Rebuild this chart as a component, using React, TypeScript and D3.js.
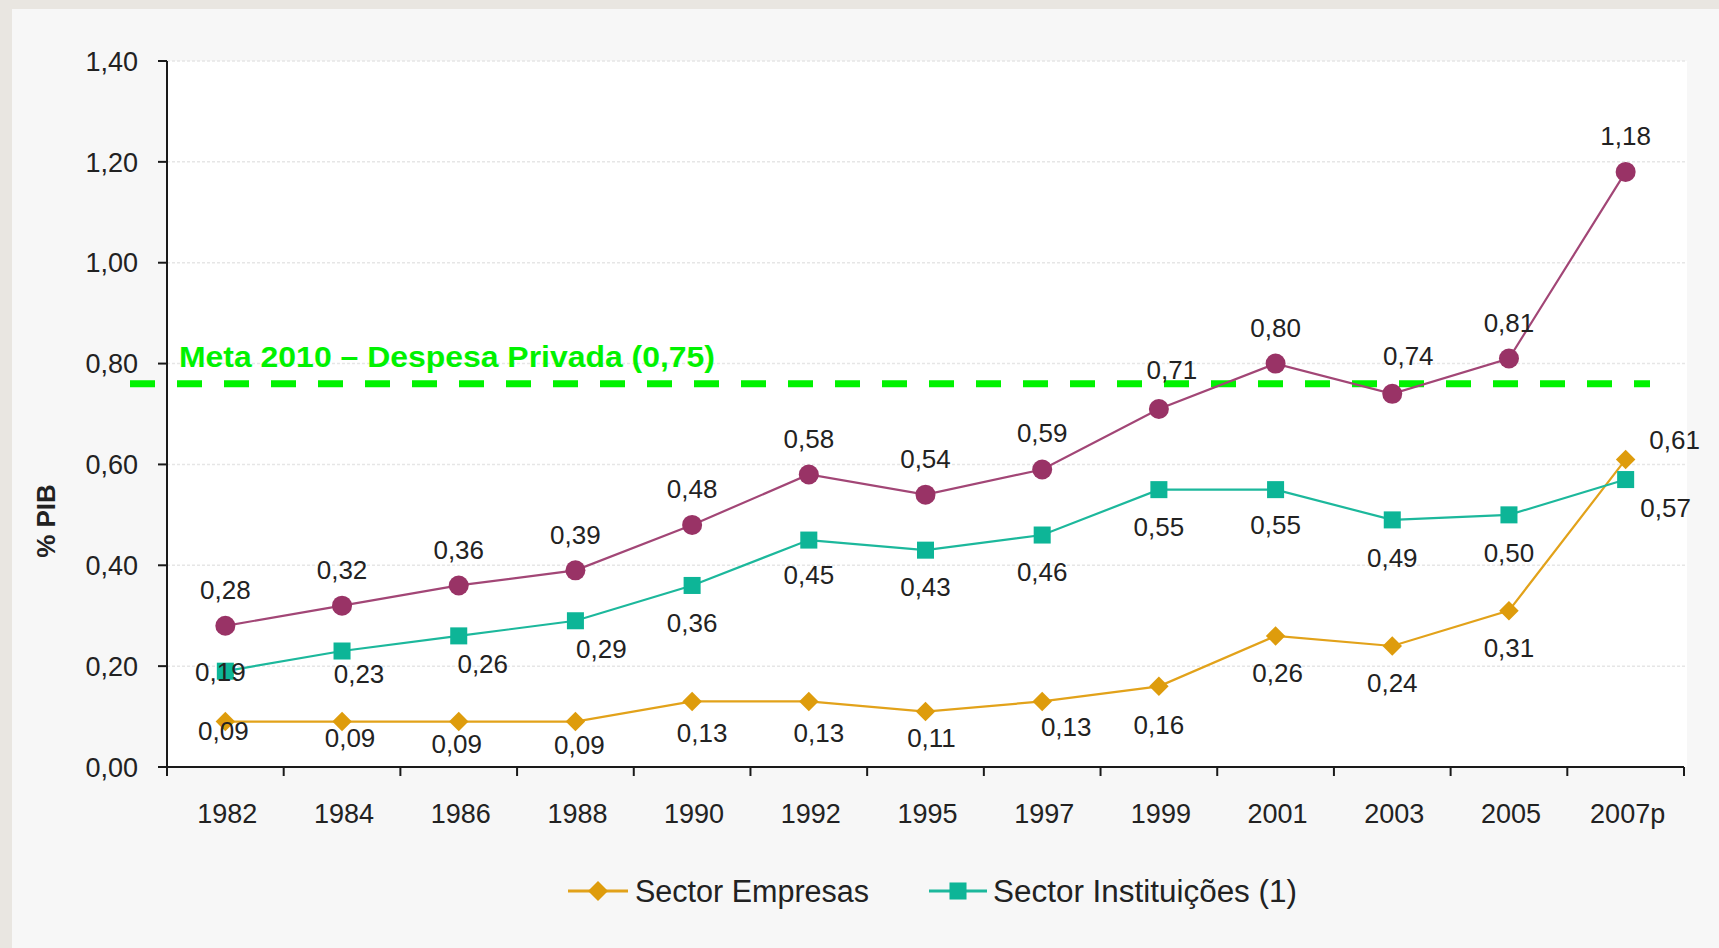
import React, { useEffect, useRef } from 'react'
import * as d3 from 'd3'

// anos (eixo x)
const years = ['1982', '1984', '1986', '1988', '1990', '1992', '1995', '1997', '1999', '2001', '2003', '2005', '2007p']

// despesa privada total (% PIB)
const totalValues = [0.28, 0.32, 0.36, 0.39, 0.48, 0.58, 0.54, 0.59, 0.71, 0.80, 0.74, 0.81, 1.18]
const empresasValues = [0.09, 0.09, 0.09, 0.09, 0.13, 0.13, 0.11, 0.13, 0.16, 0.26, 0.24, 0.31, 0.61]
const instituicoesValues = [0.19, 0.23, 0.26, 0.29, 0.36, 0.45, 0.43, 0.46, 0.55, 0.55, 0.49, 0.50, 0.57]

const yTicks = [0, 0.2, 0.4, 0.6, 0.8, 1.0, 1.2, 1.4]
const metaValue = 0.75
const metaLabel = 'Meta 2010 – Despesa Privada (0,75)'
const yAxisTitle = '% PIB'
const legendLabels = ['Sector Empresas', 'Sector Instituições (1)']

// where each value label sits relative to its point (dx, dy of the label centre)
const totalLabelOffsets = [[0, -36], [0, -36], [0, -36], [0, -36], [0, -36], [0, -36], [0, -36], [0, -37], [13, -39], [0, -36], [16, -38], [0, -36], [0, -36]]
const empresasLabelOffsets = [[-2, 9], [8, 16], [-2, 22], [4, 23], [10, 31], [10, 31], [6, 26], [24, 25], [0, 38], [2, 37], [0, 37], [0, 37], [49, -20]]
const instituicoesLabelOffsets = [[-5, 0], [17, 23], [24, 28], [26, 28], [0, 37], [0, 35], [0, 36], [0, 37], [0, 37], [0, 35], [0, 38], [0, 38], [40, 28]]

const W = 1719
const H = 948
const FONT = '"Liberation Sans", Arial, sans-serif'
const GREEN = '#00f200'

const fmt = (v: number) => d3.format('.2f')(v).replace('.', ',')

function App () {
  const ref = useRef<SVGSVGElement>(null)

  useEffect(() => {
    document.body.style.margin = '0'
    const svg = d3.select(ref.current)
    svg.selectAll('*').remove()

    // background / panel
    svg.append('rect').attr('width', W).attr('height', H).attr('fill', '#e9e6e1')
    svg.append('rect').attr('x', 12).attr('y', 9).attr('width', W - 12).attr('height', H - 9).attr('fill', '#f7f7f7')

    const left = 167
    const right = 1684
    const top = 61
    const bottom = 767

    svg.append('rect')
      .attr('x', left).attr('y', top)
      .attr('width', 1687 - left).attr('height', bottom - top)
      .attr('fill', '#ffffff')

    const x = d3.scaleBand<string>().domain(years).range([left, right])
    const y = d3.scaleLinear().domain([0, 1.4]).range([bottom, top])
    const cx = (yr: string) => (x(yr) as number) + x.bandwidth() / 2

    // gridlines
    svg.append('g')
      .selectAll('line')
      .data(yTicks.filter(t => t > 0))
      .enter()
      .append('line')
      .attr('x1', left).attr('x2', 1687)
      .attr('y1', d => y(d)).attr('y2', d => y(d))
      .attr('stroke', '#e6e6e6')
      .attr('stroke-width', 1.5)
      .attr('stroke-dasharray', '3,2')

    // y axis
    const yAxis = svg.append('g')
    yAxis.append('line')
      .attr('x1', left).attr('x2', left)
      .attr('y1', y(1.4)).attr('y2', bottom + 8)
      .attr('stroke', '#1a1a1a').attr('stroke-width', 2)
    yAxis.selectAll('.tick')
      .data(yTicks)
      .enter()
      .append('line')
      .attr('x1', left - 9).attr('x2', left)
      .attr('y1', d => y(d)).attr('y2', d => y(d))
      .attr('stroke', '#1a1a1a').attr('stroke-width', 2)
    yAxis.selectAll('text')
      .data(yTicks)
      .enter()
      .append('text')
      .attr('x', 138)
      .attr('y', d => y(d))
      .attr('dy', '0.36em')
      .attr('text-anchor', 'end')
      .attr('font-family', FONT)
      .attr('font-size', 27)
      .attr('fill', '#222')
      .text(d => fmt(d))

    // x axis
    const xAxis = svg.append('g')
    xAxis.append('line')
      .attr('x1', left - 9).attr('x2', right)
      .attr('y1', bottom).attr('y2', bottom)
      .attr('stroke', '#1a1a1a').attr('stroke-width', 2)
    const bounds = years.map(yr => x(yr) as number).concat([right])
    xAxis.selectAll('.tick')
      .data(bounds)
      .enter()
      .append('line')
      .attr('x1', d => d).attr('x2', d => d)
      .attr('y1', bottom).attr('y2', bottom + 9)
      .attr('stroke', '#1a1a1a').attr('stroke-width', 2)
    xAxis.selectAll('text')
      .data(years)
      .enter()
      .append('text')
      .attr('x', d => cx(d) + 2)
      .attr('y', 813)
      .attr('dy', '0.36em')
      .attr('text-anchor', 'middle')
      .attr('font-family', FONT)
      .attr('font-size', 27)
      .attr('fill', '#222')
      .text(d => d)

    // y axis title
    svg.append('text')
      .attr('transform', 'translate(46,521) rotate(-90)')
      .attr('dy', '0.36em')
      .attr('text-anchor', 'middle')
      .attr('font-family', FONT)
      .attr('font-size', 26)
      .attr('font-weight', 'bold')
      .attr('fill', '#222')
      .text(yAxisTitle)

    // meta line
    svg.append('line')
      .attr('x1', 130).attr('x2', 1650)
      .attr('y1', y(metaValue) - 5).attr('y2', y(metaValue) - 5)
      .attr('stroke', GREEN)
      .attr('stroke-width', 7)
      .attr('stroke-dasharray', '25,22')
    svg.append('text')
      .attr('x', 179)
      .attr('y', 367)
      .attr('font-family', FONT)
      .attr('font-size', 30)
      .attr('font-weight', 'bold')
      .attr('fill', GREEN)
      .attr('textLength', 536)
      .attr('lengthAdjust', 'spacingAndGlyphs')
      .text(metaLabel)

    const series = [
      { values: empresasValues, line: '#e2a21a', fill: '#de9c0c', marker: 'diamond', offsets: empresasLabelOffsets },
      { values: instituicoesValues, line: '#1cb89c', fill: '#0db597', marker: 'square', offsets: instituicoesLabelOffsets },
      { values: totalValues, line: '#a24676', fill: '#993366', marker: 'circle', offsets: totalLabelOffsets }
    ]

    const diamond = d3.symbol().type(d3.symbolSquare).size(190)
    const square = d3.symbol().type(d3.symbolSquare).size(290)

    series.forEach(s => {
      const pts = years.map((yr, i) => ({ yr, v: s.values[i], off: s.offsets[i] }))
      const line = d3.line<{ yr: string, v: number }>()
        .x(d => cx(d.yr))
        .y(d => y(d.v))
      svg.append('path')
        .datum(pts)
        .attr('d', line)
        .attr('fill', 'none')
        .attr('stroke', s.line)
        .attr('stroke-width', 2.2)

      const g = svg.append('g')
      const marks = g.selectAll('.m').data(pts).enter()
      if (s.marker === 'circle') {
        marks.append('circle')
          .attr('cx', d => cx(d.yr)).attr('cy', d => y(d.v))
          .attr('r', 10)
          .attr('fill', s.fill)
      } else {
        marks.append('path')
          .attr('d', s.marker === 'diamond' ? diamond() : square())
          .attr('transform', d => `translate(${cx(d.yr)},${y(d.v)})` + (s.marker === 'diamond' ? ' rotate(45)' : ''))
          .attr('fill', s.fill)
      }
    })

    // value labels on top
    series.forEach(s => {
      svg.append('g')
        .selectAll('text')
        .data(years.map((yr, i) => ({ yr, v: s.values[i], off: s.offsets[i] })))
        .enter()
        .append('text')
        .attr('x', d => cx(d.yr) + d.off[0])
        .attr('y', d => y(d.v) + d.off[1])
        .attr('dy', '0.36em')
        .attr('text-anchor', 'middle')
        .attr('font-family', FONT)
        .attr('font-size', 26)
        .attr('fill', '#222')
        .text(d => fmt(d.v))
    })

    // legend
    const legend = svg.append('g')
    const legendItems = [
      { label: legendLabels[0], x0: 568, x1: 628, text: 635, width: 234, line: '#e2a21a', fill: '#de9c0c', marker: 'diamond' },
      { label: legendLabels[1], x0: 929, x1: 987, text: 993, width: 304, line: '#1cb89c', fill: '#0db597', marker: 'square' }
    ]
    const legendDiamond = d3.symbol().type(d3.symbolSquare).size(200)
    legendItems.forEach(it => {
      const ly = 891
      legend.append('line')
        .attr('x1', it.x0).attr('x2', it.x1)
        .attr('y1', ly).attr('y2', ly)
        .attr('stroke', it.line).attr('stroke-width', 3)
      legend.append('path')
        .attr('d', it.marker === 'diamond' ? legendDiamond() : square())
        .attr('transform', `translate(${(it.x0 + it.x1) / 2},${ly})` + (it.marker === 'diamond' ? ' rotate(45)' : ''))
        .attr('fill', it.fill)
      legend.append('text')
        .attr('x', it.text)
        .attr('y', ly)
        .attr('dy', '0.36em')
        .attr('font-family', FONT)
        .attr('font-size', 31)
        .attr('fill', '#222')
        .attr('textLength', it.width)
        .attr('lengthAdjust', 'spacingAndGlyphs')
        .text(it.label)
    })
  }, [])

  return <svg ref={ref} width={W} height={H} style={{ display: 'block' }} />
}

export default App
